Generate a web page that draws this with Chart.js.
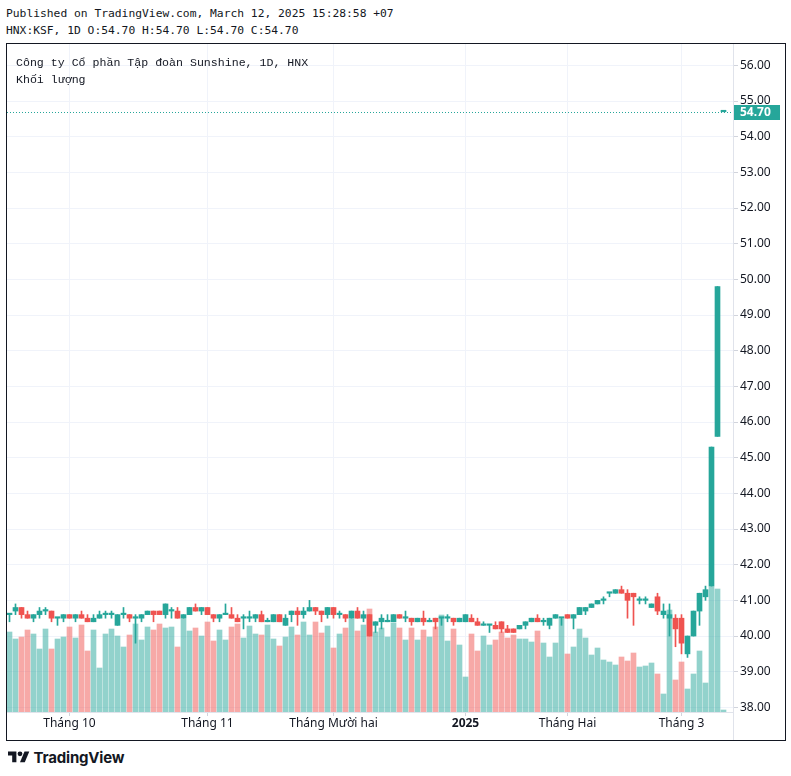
<!DOCTYPE html>
<html>
<head>
<meta charset="utf-8">
<script src="https://cdn.jsdelivr.net/npm/chart.js@4.4.1/dist/chart.umd.min.js"></script>
<style>
  body { margin: 0; background: #fff; width: 791px; height: 776px; position: relative; overflow: hidden; }
  .mono { position: absolute; font-family: "DejaVu Sans Mono", monospace; color: #131722; white-space: pre; line-height: 14px; }
  .vi { font-family: "Liberation Mono", monospace; }
  #frame { position: absolute; left: 6px; top: 43px; width: 778px; height: 696px; border: 1px solid #131722; }
  #chart { position: absolute; left: 0; top: 0; }
  #logo { position: absolute; left: 8px; top: 748px; display: flex; align-items: center; }
  #logo span { font-family: Inter, sans-serif; font-weight: 700; font-size: 15px; color: #131722; margin-left: 4px; letter-spacing: -0.2px; }
</style>
</head>
<body>
<div class="mono" style="left:6px;top:7px;font-size:11.3px">Published on TradingView.com, March 12, 2025 15:28:58 +07</div>
<div class="mono" style="left:6px;top:24px;font-size:11.3px">HNX:KSF, 1D O:54.70 H:54.70 L:54.70 C:54.70</div>
<div id="frame">
  <canvas id="chart" width="778" height="696"></canvas>
</div>
<div class="mono vi" style="left:16px;top:56px;font-size:11.6px">Công ty Cổ phần Tập đoàn Sunshine, 1D, HNX</div>
<div class="mono vi" style="left:16px;top:73px;font-size:11.6px">Khối lượng</div>
<div id="logo">
  <svg width="21.6" height="16.8" viewBox="0 0 36 28"><path fill="#131722" d="M14 22H7V11H0V4h14v18z"/><circle fill="#131722" cx="20" cy="8" r="4"/><path fill="#131722" d="M28 22h-8l7.5-18h8L28 22z"/></svg>
  <span>TradingView</span>
</div>

<script>
// daily bars, Sep 17 2024 .. Mar 12 2025
var opens = [40.6,40.7,40.8,40.6,40.5,40.6,40.7,40.7,40.5,40.5, 40.6,40.5,40.6,40.5,40.4,40.5,40.6,40.6,40.3,40.6,
             40.6,40.5,40.5,40.6,40.7,40.7,40.6,40.7,40.7,40.5, 40.6,40.8,40.7,40.8,40.6,40.5,40.6,40.6,40.5,40.5,
             40.5,40.5,40.6,40.4,40.4,40.6,40.3,40.6,40.7,40.6, 40.7,40.8,40.7,40.6,40.8,40.6,40.6,40.5,40.7,40.5,
             40.6,40.3,40.4,40.4,40.4,40.6,40.5,40.5,40.4,40.5, 40.4,40.5,40.5,40.5,40.5,40.4,40.4,40.5,40.4,40.3,
             40.3,40.3,40.4,40.2,40.2,40.2,40.3,40.4,40.5,40.4, 40.3,40.5,40.5,40.6,40.5,40.6,40.7,40.8,40.9,41.0,
             41.2,41.2,41.3,41.2,41.2,41.0,41.0,40.8,41.1,40.6, 40.5,40.5,40.5,39.5,40.0,40.7,41.1,41.4,45.6,54.7];
var highs = [40.6,40.9,40.8,40.7,40.6,40.8,40.8,40.7,40.5,40.6, 40.6,40.6,40.7,40.6,40.6,40.7,40.7,40.7,40.6,40.8,
             40.6,40.6,40.6,40.7,40.7,40.7,40.9,40.8,40.8,40.6, 40.8,40.9,40.8,40.8,40.6,40.6,40.9,40.8,40.6,40.6,
             40.7,40.6,40.7,40.5,40.6,40.6,40.6,40.7,40.8,40.8, 41.0,40.8,40.7,40.8,40.8,40.7,40.6,40.7,40.8,40.7,
             40.6,40.4,40.6,40.6,40.6,40.6,40.7,40.5,40.5,40.7, 40.5,40.5,40.5,40.6,40.5,40.5,40.6,40.6,40.5,40.4,
             40.3,40.4,40.4,40.3,40.2,40.3,40.4,40.5,40.6,40.5, 40.5,40.6,40.5,40.6,40.6,40.8,40.8,40.9,41.0,41.1,
             41.2,41.3,41.4,41.3,41.2,41.1,41.1,40.9,41.2,40.9, 40.9,40.6,40.6,40.0,40.7,41.2,41.4,45.3,49.8,54.7];
var lows  = [40.4,40.6,40.5,40.5,40.4,40.5,40.6,40.4,40.3,40.4, 40.5,40.4,40.5,40.4,40.4,40.5,40.5,40.5,40.3,40.5,
             40.4,39.8,40.4,40.6,40.4,40.6,40.5,40.5,40.5,40.5, 40.6,40.7,40.6,40.6,40.4,40.4,40.6,40.5,40.4,40.2,
             40.4,40.4,40.4,40.4,40.4,40.4,40.3,40.4,40.3,40.5, 40.7,40.6,40.4,40.5,40.5,40.5,40.4,40.5,40.5,40.4,
             40.0,40.1,40.2,40.4,40.4,40.5,40.4,40.3,40.4,40.3, 40.4,40.2,40.3,40.4,40.3,40.4,40.4,40.4,40.3,40.3,
             40.1,40.2,40.1,40.1,40.1,40.2,40.2,40.4,40.4,40.3, 40.2,40.5,40.3,40.5,40.2,40.6,40.6,40.8,40.9,40.9,
             41.1,41.2,41.2,40.5,40.3,40.9,40.9,40.8,40.6,40.5, 40.0,39.7,39.5,39.4,40.0,40.3,41.0,41.4,45.6,54.7];
var closes = [40.6,40.8,40.6,40.5,40.6,40.7,40.7,40.5,40.5,40.6, 40.5,40.6,40.5,40.4,40.5,40.6,40.6,40.6,40.6,40.6,
              40.5,40.5,40.6,40.7,40.6,40.6,40.9,40.7,40.5,40.6, 40.8,40.7,40.8,40.6,40.5,40.6,40.6,40.5,40.4,40.5,
              40.5,40.6,40.4,40.4,40.6,40.4,40.5,40.7,40.6,40.7, 40.8,40.7,40.6,40.8,40.6,40.6,40.5,40.7,40.5,40.6,
              40.0,40.4,40.5,40.4,40.6,40.5,40.5,40.4,40.5,40.4, 40.4,40.4,40.5,40.5,40.4,40.5,40.6,40.4,40.3,40.3,
              40.3,40.2,40.2,40.1,40.1,40.3,40.4,40.5,40.4,40.4, 40.5,40.6,40.5,40.5,40.6,40.8,40.8,40.9,41.0,41.0,
              41.2,41.3,41.2,41.0,41.1,41.0,41.0,40.9,40.7,40.7, 40.6,40.2,39.8,40.0,40.7,41.2,41.3,45.3,49.8,54.7];
var volumes = [80,73,75,82,78,63,83,63,73,75, 85,74,87,61,82,44,78,83,76,65,
               77,88,72,85,82,88,84,85,65,93, 81,84,76,90,71,82,72,85,88,74,
               86,78,77,87,73,66,75,85,77,90, 77,90,79,86,64,78,84,93,81,87,
               103,80,84,75,89,84,72,84,72,82, 75,85,97,71,83,67,35,78,61,76,
               67,72,80,74,77,73,73,70,81,69, 55,69,93,58,65,83,74,57,64,52,
               50,47,55,51,59,45,46,49,38,18, 102,32,50,23,38,61,29,125,123,2];

var monthTickIdx = [10, 33, 54, 76, 93, 112];
var monthTickLabels = ['Tháng 10', 'Tháng 11', 'Tháng Mười hai', '2025', 'Tháng Hai', 'Tháng 3'];
var priceTicks = [38,39,40,41,42,43,44,45,46,47,48,49,50,51,52,53,54,55,56];

var upColor = '#26a69a', downColor = '#ef5350';
var candleColors = opens.map(function (o, i) { return closes[i] >= o ? upColor : downColor; });
var volColors = opens.map(function (o, i) { return closes[i] >= o ? 'rgba(38,166,154,0.5)' : 'rgba(239,83,80,0.5)'; });

var lastPrice = {
  id: 'lastPrice',
  beforeDatasetsDraw: function (chart) {
    var c = chart.ctx, a = chart.chartArea;
    var y = Math.round(chart.scales.y.getPixelForValue(closes[closes.length - 1])) + 0.5;
    c.save();
    c.strokeStyle = upColor;
    c.lineWidth = 1;
    c.setLineDash([1, 2]);
    c.beginPath(); c.moveTo(a.left, y); c.lineTo(a.right, y); c.stroke();
    c.restore();
  },
  afterDraw: function (chart) {
    var c = chart.ctx, a = chart.chartArea;
    c.save();
    c.strokeStyle = '#e0e3eb';
    c.beginPath(); c.moveTo(a.right + 0.5, 0); c.lineTo(a.right + 0.5, chart.height); c.stroke();
    var y = Math.round(chart.scales.y.getPixelForValue(closes[closes.length - 1]));
    c.fillStyle = upColor;
    c.fillRect(a.right + 1, y - 7, 46, 15);
    c.fillStyle = '#fff';
    c.font = 'bold 12px "Noto Sans"';
    c.textBaseline = 'middle';
    c.fillText(closes[closes.length - 1].toFixed(2), a.right + 7, y + 0.5);
    c.restore();
  }
};

var ctx = document.getElementById('chart').getContext('2d');
var chart = new Chart(ctx, {
  type: 'bar',
  data: {
    datasets: [{
      label: 'body',
      data: opens.map(function (o, i) { return { x: i, y: [o, closes[i]] }; }),
      backgroundColor: candleColors,
      barThickness: 5,
      minBarLength: 1.5,
      order: 1,
      yAxisID: 'y'
    }, {
      label: 'wick',
      data: lows.map(function (l, i) { return { x: i, y: [l, highs[i]] }; }),
      backgroundColor: candleColors,
      barThickness: 1,
      order: 2,
      yAxisID: 'y'
    }, {
      label: 'volume',
      data: volumes.map(function (v, i) { return { x: i, y: v }; }),
      backgroundColor: volColors,
      barThickness: 5,
      order: 3,
      yAxisID: 'yv'
    }]
  },
  options: {
    responsive: false,
    animation: false,
    devicePixelRatio: 1,
    layout: { padding: 0 },
    datasets: { bar: { grouped: false, borderWidth: 0 } },
    plugins: { legend: { display: false }, tooltip: { enabled: false } },
    scales: {
      x: {
        type: 'linear',
        min: -0.4167,
        max: 120.5833,
        offset: false,
        afterBuildTicks: function (s) { s.ticks = monthTickIdx.map(function (v) { return { value: v }; }); },
        afterFit: function (s) { s.height = 28; s.paddingLeft = 0; s.paddingRight = 0; },
        ticks: {
          autoSkip: false,
          maxRotation: 0,
          padding: 0,
          color: '#131722',
          font: function (c) { return { family: 'Noto Sans', size: 12, weight: c.index === 3 ? 'bold' : 'normal' }; },
          callback: function (v, i) { return monthTickLabels[i]; }
        },
        grid: { offset: false, color: '#f0f3fa', tickColor: '#d1d4dc', tickLength: 4 },
        border: { color: '#e0e3eb' }
      },
      y: {
        position: 'right',
        min: 37.87,
        max: 56.6,
        afterBuildTicks: function (s) { s.ticks = priceTicks.map(function (v) { return { value: v }; }); },
        afterFit: function (s) { s.width = 52; s.paddingTop = 0; s.paddingBottom = 0; },
        ticks: {
          padding: 2,
          color: '#131722',
          font: { family: 'Noto Sans', size: 12 },
          callback: function (v) { return v.toFixed(2); }
        },
        grid: { color: '#f0f3fa', tickColor: '#d1d4dc', tickLength: 5 },
        border: { color: '#e0e3eb' }
      },
      yv: { display: false, min: 0, max: 668 }
    }
  },
  plugins: [lastPrice]
});
</script>
</body>
</html>
